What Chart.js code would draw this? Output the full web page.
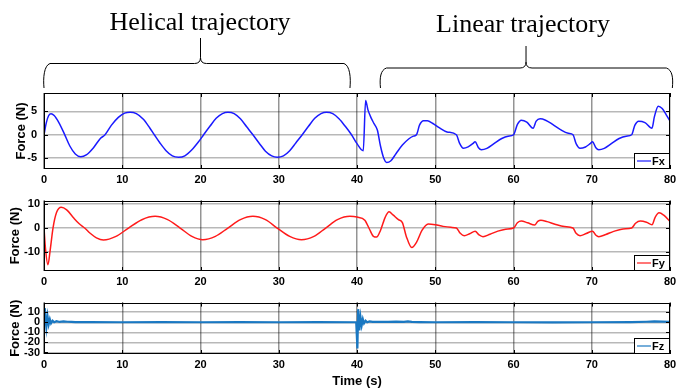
<!DOCTYPE html>
<html><head><meta charset="utf-8">
<script src="https://cdn.jsdelivr.net/npm/chart.js@4.4.0/dist/chart.umd.min.js"></script>
<style>
html,body{margin:0;padding:0;background:#fff;}
#wrap{position:relative;width:690px;height:392px;overflow:hidden;background:#fff}
.box{position:absolute;left:0;width:690px}
.box canvas{display:block}
.ttl{position:absolute;font-family:'Liberation Serif','Times New Roman',serif;font-size:26px;line-height:26px;white-space:nowrap;transform:translateX(-50%);color:#000}
</style></head><body>
<div id="wrap">
<div class="box" style="top:0;height:190px"><canvas id="c1" width="690" height="190"></canvas></div>
<div class="box" style="top:190px;height:102px"><canvas id="c2" width="690" height="102"></canvas></div>
<div class="box" style="top:292px;height:100px"><canvas id="c3" width="690" height="100"></canvas></div>
<div class="ttl" style="left:200px;top:9px">Helical trajectory</div>
<div class="ttl" style="left:523px;top:11px">Linear trajectory</div>
</div>
<script>
// ---- data ----
const xTicks = [0, 10, 20, 30, 40, 50, 60, 70, 80];
const fxTicks = [-5, 0, 5];
const fyTicks = [-10, 0, 10];
const fzTicks = [-30, -20, -10, 0, 10];

const fxT = [0,0.3,0.6,0.9,1.3,1.9,2.6,3.3,4.0,4.7,5.4,6.3,7.2,7.8,8.6,9.5,10.3,11.0,11.8,12.7,13.5,14.1,14.8,15.6,16.4,17.2,18.0,18.9,19.7,20.4,21.2,22.0,22.8,23.5,24.3,25.1,25.9,26.7,27.5,28.3,29.1,29.8,30.6,31.4,32.2,33.0,33.8,34.6,35.4,36.1,36.9,37.7,38.5,39.3,40.0,40.8,41.1,41.4,41.8,42.2,42.6,43.0,43.4,43.8,44.3,45.0,45.8,46.6,47.2,47.6,48.0,48.5,49.0,49.7,50.5,51.5,52.7,53.1,53.6,54.2,54.8,55.1,55.5,55.9,56.6,57.5,58.5,59.3,60.0,60.5,61.0,61.7,62.5,62.9,63.4,64.1,65.0,66.0,67.0,67.6,68.0,68.5,69.2,69.8,70.1,70.5,70.9,71.6,72.5,73.5,74.4,75.1,75.5,76.0,76.8,77.7,78.0,78.5,79.0,79.5,80.0];
const fxV = [0,2.6,4.1,4.5,4.1,2.6,0.2,-2.4,-4.1,-4.7,-4.3,-2.8,-0.8,0,2.0,3.7,4.6,4.8,4.5,3.3,1.5,0,-1.7,-3.4,-4.5,-4.8,-4.5,-3.2,-1.6,0,1.8,3.5,4.5,4.8,4.5,3.4,1.7,0,-1.8,-3.5,-4.5,-4.8,-4.5,-3.4,-1.7,0,1.8,3.5,4.5,4.8,4.5,3.4,1.8,0,-1.9,-3.4,7.3,5.3,3.6,2.3,1.0,-2.4,-4.9,-5.9,-5.6,-4.0,-2.2,-0.9,-0.3,0,2.1,3.0,3.0,2.4,1.5,0.6,0,-1.8,-2.9,-2.6,-1.9,-1.5,-2.7,-3.2,-2.9,-1.9,-0.8,-0.3,0,2.2,3.1,2.7,1.4,2.9,3.4,3.1,2.2,1.1,0.3,0,-1.9,-2.9,-2.6,-1.9,-1.5,-2.7,-3.2,-2.9,-1.9,-0.8,-0.3,0,2.0,2.9,2.6,1.4,3.8,6.1,5.6,4.3,2.9];

const fyT = [0,0.2,0.5,0.8,1.15,1.6,2.2,2.9,3.8,4.5,5.2,5.9,6.7,7.6,9.2,10.8,12.5,14.2,15.8,17.4,18.9,20.3,21.9,23.5,25.1,26.7,28.3,29.8,31.4,32.9,34.5,36.0,37.5,39.1,40.0,41.0,41.6,42.1,42.5,43.0,43.6,44.1,44.6,45.3,45.8,46.3,47.0,47.6,48.3,49.1,50.0,51.0,52.0,52.7,53.2,53.7,54.4,55.1,55.6,56.1,57.0,58.0,59.0,60.0,60.5,61.0,61.8,62.7,63.1,63.5,64.3,65.3,66.5,67.6,68.0,68.5,69.3,70.1,70.5,70.9,71.8,72.8,74.0,75.1,75.6,76.2,77.0,77.7,78.1,78.6,79.2,80.0];
const fyV = [0,-9,-15.4,-9,0,6.5,8.7,7.6,4.2,1.8,0,-2.2,-4.1,-5.0,-3.5,0,3.5,4.9,3.5,0,-3.5,-4.9,-3.5,0,3.5,4.9,3.5,0,-3.5,-4.9,-3.5,0,3.5,4.9,4.6,3.3,-0.5,-3.5,-3.8,-1.0,4.5,6.8,5.5,3.5,2.3,-3.5,-8.2,-6.0,-1.0,1.7,1.4,0.7,0.3,0,-2.2,-3.2,-2.4,-1.3,-2.9,-3.6,-2.6,-1.3,-0.5,0,2.2,2.9,2.2,1.3,2.8,3.3,2.7,1.6,0.6,0,-2.2,-3.2,-2.3,-1.3,-2.9,-3.6,-2.7,-1.4,-0.4,0,2.0,2.9,2.4,1.4,4.5,6.4,5.4,2.8];

const fzT = [0,0.1,0.2,0.3,0.45,0.6,0.75,0.9,1.1,1.3,1.6,2.0,2.5,3.0,3.5,4.0,6,10,15,20,25,30,35,39.9,40.05,40.15,40.3,40.45,40.6,40.75,40.9,41.1,41.3,41.6,42.0,43,44,45,46,46.5,47,48,50,55,60,65,70,75,77,78,79,80];
const fzV = [0,14,3,-5,6,-2,3,-1,1.5,0,1,0.3,0.8,0.5,0.4,0.2,0.1,0,0.1,0,0.1,0,0.1,0,-26,13,-8,5,-3,3,-1,1.5,0,0.8,0.3,0.5,0.3,0.6,0.4,0.9,0.3,0.2,0,0.1,0,-0.1,0,0.2,0.5,0.8,0.6,0.4];

const braceSpans = [[0, 39.1], [43.0, 80.3]];
const braceCenters = [20.0, 61.6];

// ---- helpers ----
const FONT = "'Liberation Sans', Arial, sans-serif";
const pts = (T, V) => T.map((t, i) => ({x: t, y: V[i]}));

const framePlugin = {
  id: 'frame',
  afterDraw(chart) {
    const {ctx, chartArea: a, scales} = chart;
    ctx.save();
    ctx.strokeStyle = '#000';
    ctx.lineWidth = 1;
    ctx.beginPath();
    scales.x.ticks.forEach(t => {
      const px = Math.round(scales.x.getPixelForValue(t.value)) + 0.5;
      ctx.moveTo(px, a.top); ctx.lineTo(px, a.top + 4);
      ctx.moveTo(px, a.bottom); ctx.lineTo(px, a.bottom - 4);
    });
    scales.y.ticks.forEach(t => {
      const py = Math.round(scales.y.getPixelForValue(t.value)) + 0.5;
      ctx.moveTo(a.left, py); ctx.lineTo(a.left + 4, py);
      ctx.moveTo(a.right, py); ctx.lineTo(a.right - 4, py);
    });
    ctx.stroke();
    // legend box (bottom-right)
    const ds = chart.data.datasets[0];
    const w = 36, h = 16;
    const x0 = Math.round(a.right - w), y0 = Math.round(a.bottom - h);
    ctx.fillStyle = '#fff';
    ctx.fillRect(x0, y0, w, h);
    ctx.strokeStyle = ds.borderColor;
    ctx.lineWidth = 1.2;
    ctx.beginPath(); ctx.moveTo(x0 + 3, y0 + h / 2); ctx.lineTo(x0 + 17, y0 + h / 2); ctx.stroke();
    ctx.fillStyle = '#000';
    ctx.font = 'bold 11px ' + FONT;
    ctx.textBaseline = 'middle';
    ctx.textAlign = 'left';
    ctx.fillText(ds.label, x0 + 18, y0 + h / 2 + 0.5);
    ctx.strokeStyle = '#000'; ctx.lineWidth = 1;
    ctx.strokeRect(x0 + 0.5, y0 + 0.5, w - 1, h - 1);
    ctx.strokeRect(Math.round(a.left) + 0.5, Math.round(a.top) + 0.5, Math.round(a.right - a.left) - 1, Math.round(a.bottom - a.top) - 1);
    ctx.restore();
  }
};

const bracePlugin = {
  id: 'braces',
  afterDraw(chart, args, opts) {
    const {ctx, scales} = chart;
    ctx.save();
    ctx.strokeStyle = '#000';
    ctx.lineWidth = 1;
    braceSpans.forEach((sp, i) => {
      const x1 = scales.x.getPixelForValue(sp[0]);
      const x2 = scales.x.getPixelForValue(sp[1]);
      const xc = scales.x.getPixelForValue(braceCenters[i]);
      const yMid = opts.mid[i], yTop = opts.top[i], yEnd = opts.end;
      const r = 6;
      ctx.beginPath();
      ctx.moveTo(x1, yEnd);
      ctx.bezierCurveTo(x1 - 1, yEnd - 10, x1, yMid + 2, x1 + r, yMid);
      ctx.lineTo(xc - r, yMid);
      ctx.quadraticCurveTo(xc, yMid, xc, yMid - r);
      ctx.lineTo(xc, yTop);
      ctx.moveTo(xc, yMid - r);
      ctx.quadraticCurveTo(xc, yMid, xc + r, yMid);
      ctx.lineTo(x2 - r, yMid);
      ctx.bezierCurveTo(x2, yMid + 2, x2 + 1, yEnd - 10, x2, yEnd);
      ctx.stroke();
    });
    ctx.restore();
  }
};

function makeChart(id, label, T, V, color, width, tension, yMin, yMax, yTicks, opt) {
  return new Chart(document.getElementById(id), {
    type: 'line',
    data: { datasets: [{
      label, data: pts(T, V), borderColor: color, borderWidth: width,
      pointRadius: 0, fill: false, tension,
      cubicInterpolationMode: tension ? 'monotone' : 'default'
    }]},
    options: {
      responsive: false, animation: false, devicePixelRatio: 1,
      layout: { padding: { top: opt.padTop, right: 20, left: 0, bottom: 0 } },
      plugins: { legend: { display: false }, tooltip: { enabled: false }, braces: opt.braces || {} },
      scales: {
        x: {
          type: 'linear', min: 0, max: 80,
          afterBuildTicks: s => { s.ticks = xTicks.map(v => ({value: v})); },
          afterFit: s => { s.height = opt.xH; },
          grid: { color: 'rgba(0,0,0,0.42)', lineWidth: 1.5, drawTicks: false },
          border: { display: false },
          ticks: { color: '#000', padding: 4, maxRotation: 0, autoSkip: false, font: { family: FONT, size: 11, weight: 'bold' } },
          title: opt.xTitle ? { display: true, text: opt.xTitle, color: '#000', padding: { top: 0, bottom: 2.7 }, font: { family: FONT, size: 13, weight: 'bold' } } : { display: false }
        },
        y: {
          type: 'linear', min: yMin, max: yMax,
          afterBuildTicks: s => { s.ticks = yTicks.map(v => ({value: v})); },
          afterFit: s => { s.width = 44; },
          grid: { color: 'rgba(0,0,0,0.28)', lineWidth: 1.5, drawTicks: false },
          border: { display: false },
          ticks: { color: '#000', padding: opt.yPad, autoSkip: false, font: { family: FONT, size: 11, weight: 'bold' } },
          title: { display: true, text: 'Force (N)', color: '#000', padding: { top: opt.yTitlePad, bottom: 0 }, font: { family: FONT, size: 13, weight: 'bold' } }
        }
      }
    },
    plugins: opt.braces ? [framePlugin, bracePlugin] : [framePlugin]
  });
}

makeChart('c1', 'Fx', fxT, fxV, '#1a1aff', 1.5, 0.4, -7.3, 8.9, fxTicks,
  { padTop: 93, xH: 21, yPad: 7, yTitlePad: 13.9, braces: { mid: [63.5, 68], top: [38, 46], end: 88 } });
makeChart('c2', 'Fy', fyT, fyV, '#ff1a1a', 1.5, 0.4, -18, 11.5, fyTicks,
  { padTop: 5, xH: 21, yPad: 4, yTitlePad: 7.2 });
makeChart('c3', 'Fz', fzT, fzV, '#1a78c2', 2.2, 0, -31.5, 19.5, fzTicks,
  { padTop: 3, xH: 38, yPad: 4, yTitlePad: 7.2, xTitle: 'Time (s)' });
</script>
</body></html>
